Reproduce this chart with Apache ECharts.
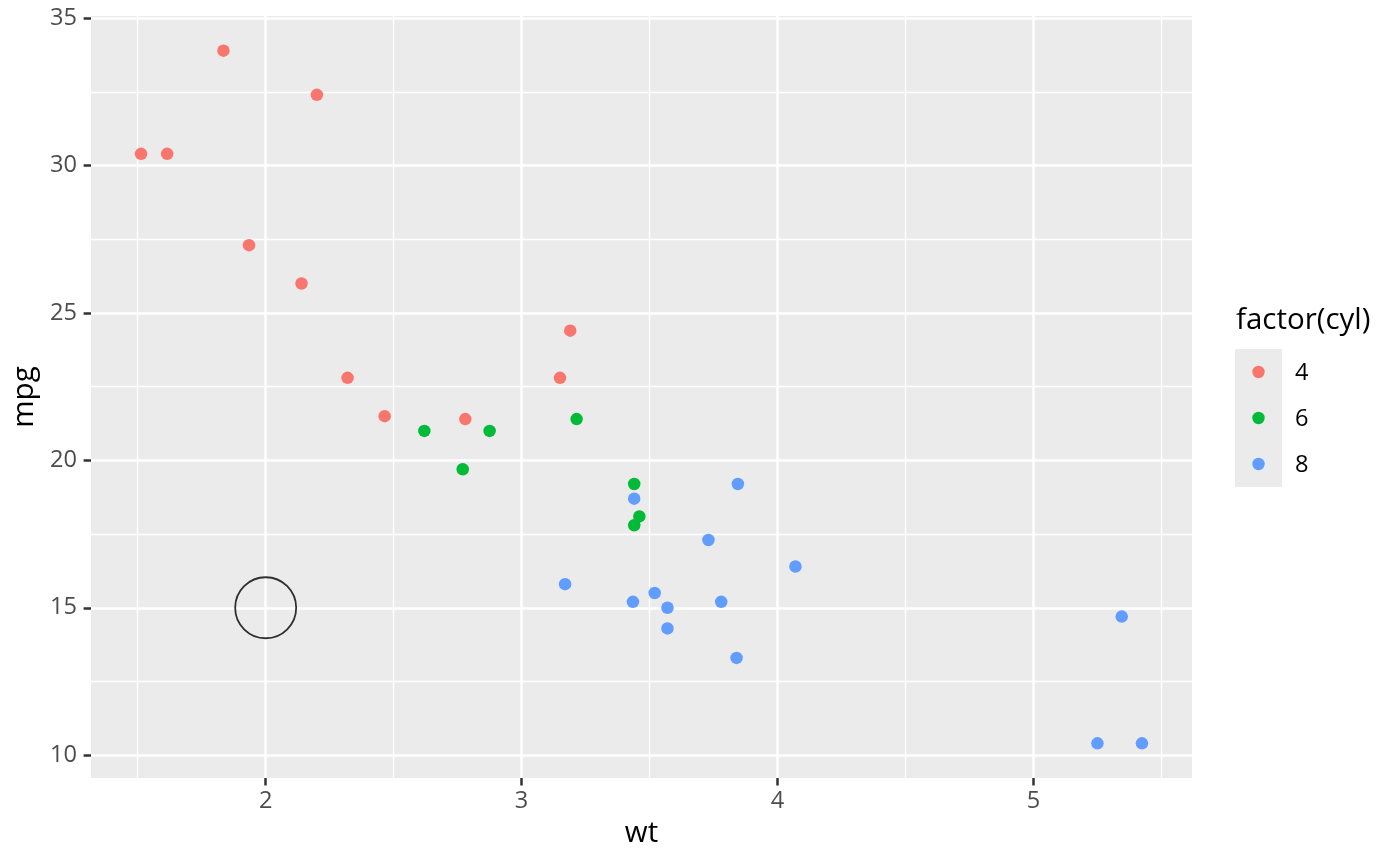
<!DOCTYPE html>
<html>
<head>
<meta charset="utf-8">
<script src="https://cdn.jsdelivr.net/npm/echarts@6/dist/echarts.min.js"></script>
<style>html,body{margin:0;padding:0;background:#fff}#c{width:1400px;height:866px}</style>
</head>
<body>
<div id="c"></div>
<script>
// mtcars: wt, mpg, cyl
const wt  = [2.620,2.875,2.320,3.215,3.440,3.460,3.570,3.190,3.150,3.440,3.440,4.070,3.730,3.780,5.250,5.424,5.345,2.200,1.615,1.835,2.465,3.520,3.435,3.840,3.845,1.935,2.140,1.513,3.170,2.770,3.570,2.780];
const mpg = [21.0,21.0,22.8,21.4,18.7,18.1,14.3,24.4,22.8,19.2,17.8,16.4,17.3,15.2,10.4,10.4,14.7,32.4,30.4,33.9,21.5,15.5,15.2,13.3,19.2,27.3,26.0,30.4,15.8,19.7,15.0,21.4];
const cyl = [6,6,4,6,8,6,8,4,4,6,6,8,8,8,8,8,8,4,4,4,4,8,8,8,8,4,4,4,8,6,8,4];
const cylLevels = [4,6,8];
const cylColors = ['#F8766D','#00BA38','#619CFF'];
const xTicks = [2,3,4,5];
const xMinor = [1.5,2.5,3.5,4.5,5.5];
const yTicks = [10,15,20,25,30,35];
const yMinor = [12.5,17.5,22.5,27.5,32.5];
const circlePoint = [2,15];

const FONT = 'Open Sans';
const xMin = 1.513 - 0.05*(5.424-1.513), xMax = 5.424 + 0.05*(5.424-1.513);
const yMin = 10.4 - 0.05*(33.9-10.4), yMax = 33.9 + 0.05*(33.9-10.4);

const gridLines = [];
xMinor.forEach(v => gridLines.push({xAxis: v, lineStyle:{color:'#fff', width:1.3, type:'solid'}}));
yMinor.forEach(v => gridLines.push({yAxis: v, lineStyle:{color:'#fff', width:1.3, type:'solid'}}));
xTicks.forEach(v => gridLines.push({xAxis: v, lineStyle:{color:'#fff', width:2.5, type:'solid'}}));
yTicks.forEach(v => gridLines.push({yAxis: v, lineStyle:{color:'#fff', width:2.5, type:'solid'}}));

const series = [{
  type: 'scatter', data: [], z: 1, silent: true,
  markLine: { z: 1, silent: true, symbol: ['none','none'], label: {show:false}, animation: false, data: gridLines }
}];
cylLevels.forEach((c, i) => {
  const d = [];
  for (let k = 0; k < wt.length; k++) if (cyl[k] === c) d.push([wt[k], mpg[k]]);
  series.push({ type:'scatter', name: String(c), data: d, symbolSize: 12.5, z: 10,
    itemStyle: { color: cylColors[i], opacity: 1 } });
});
series.push({ type:'scatter', data:[circlePoint], symbol:'circle', symbolSize: 61, z: 11,
  itemStyle: { color: 'rgba(0,0,0,0)', borderColor: '#000', borderWidth: 1.8 } });

const legendGraphics = [
  { type:'rect', shape:{x:1235, y:349, width:47, height:138}, style:{fill:'#EBEBEB'} },
  { type:'text', x:1236, y:321, style:{text:'factor(cyl)', fontSize:29.5, fontFamily:FONT, fill:'#000', verticalAlign:'middle', align:'left'} }
];
cylLevels.forEach((c, i) => {
  const y = 372 + i*46;
  legendGraphics.push({ type:'circle', shape:{cx:1258.5, cy:y, r:6.2}, style:{fill:cylColors[i]} });
  legendGraphics.push({ type:'text', x:1295, y:y + 1, style:{text:String(c), fontSize:23.6, fontFamily:FONT, fill:'#000', verticalAlign:'middle', align:'left'} });
});

const chart = echarts.init(document.getElementById('c'), null, {renderer:'canvas'});
chart.setOption({
  animation: false,
  backgroundColor: '#fff',
  textStyle: { fontFamily: FONT },
  grid: { left: 91, right: 208, top: 16, bottom: 88, show: true, backgroundColor: '#EBEBEB', borderWidth: 0, containLabel: false },
  xAxis: {
    type: 'value', min: xMin, max: xMax,
    name: 'wt', nameLocation: 'middle', nameGap: 41,
    nameTextStyle: { fontSize: 29.5, color: '#000', fontFamily: FONT },
    axisLine: { show: false },
    splitLine: { show: false },
    axisTick: { show: true, length: 7.4, customValues: xTicks, lineStyle: { color: '#333', width: 2.5 } },
    axisLabel: { customValues: xTicks, fontSize: 23.6, color: '#4D4D4D', margin: 11, fontFamily: FONT }
  },
  yAxis: {
    type: 'value', min: yMin, max: yMax,
    name: 'mpg', nameLocation: 'middle', nameGap: 46,
    nameTextStyle: { fontSize: 29.5, color: '#000', fontFamily: FONT },
    axisLine: { show: false },
    splitLine: { show: false },
    axisTick: { show: true, length: 7.4, customValues: yTicks, lineStyle: { color: '#333', width: 2.5 } },
    axisLabel: { customValues: yTicks, fontSize: 23.6, color: '#4D4D4D', margin: 14, fontFamily: FONT }
  },
  series: series,
  graphic: legendGraphics
});
</script>
</body>
</html>
